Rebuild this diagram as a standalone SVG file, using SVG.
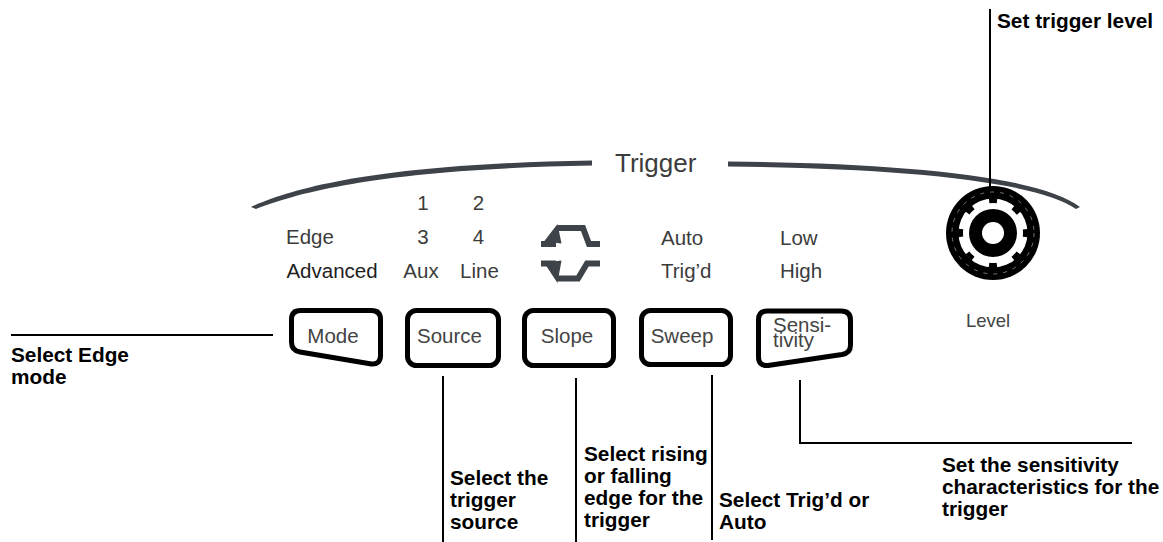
<svg xmlns="http://www.w3.org/2000/svg" width="1163" height="542" viewBox="0 0 1163 542">
<style>
.lbl{font-family:"Liberation Sans",Arial,sans-serif;font-size:20.5px;fill:#3c3c3c}
.mid{text-anchor:middle}
.call{font-family:"Liberation Sans",Arial,sans-serif;font-size:20.8px;font-weight:bold;fill:#000}
.btn{fill:#fff;stroke:#000;stroke-width:5;stroke-linejoin:round}
.ln{stroke:#000;stroke-width:2;fill:none}
.arc{fill:#3d4348}
.icon{fill:none;stroke:#3d4348;stroke-width:6}
</style>
<rect width="1163" height="542" fill="#fff"/>

<g id="trigger-header">
<path class="arc" d="M251 207 C300 185 390 164 592 160.5 L592 165.5 C392 169 304 190 256 209 Z"/>
<path class="arc" d="M728 161.5 C900 163 1040 176 1080 207 L1076 209 C1036 181 898 168 728 166.5 Z"/>
<text class="lbl" x="615" y="172" style="font-size:26px">Trigger</text>
</g>

<g id="mode-labels">
<text class="lbl mid" x="310" y="244">Edge</text>
<text class="lbl mid" x="332" y="278" style="fill:#1e1e1e">Advanced</text>
</g>
<g id="source-labels">
<text class="lbl mid" x="423" y="209.5">1</text>
<text class="lbl mid" x="478.5" y="209.5">2</text>
<text class="lbl mid" x="423" y="244">3</text>
<text class="lbl mid" x="478.5" y="244">4</text>
<text class="lbl mid" x="421" y="278">Aux</text>
<text class="lbl mid" x="479.5" y="278">Line</text>
</g>
<g id="slope-icon">
<path class="icon" d="M541 244 H556 M558 228 H583 L589 244 H600"/>
<polygon fill="#3d4348" points="544,241.5 557.5,224 561.5,243.5"/>
<path class="icon" d="M541 263.5 H556 M558 278.5 H578 L587 263.5 H600"/>
<polygon fill="#3d4348" points="544,262.5 557.5,283 561.5,260.5"/>
</g>
<g id="sweep-labels">
<text class="lbl" x="661" y="245">Auto</text>
<text class="lbl" x="661" y="278">Trig’d</text>
</g>
<g id="sensitivity-labels">
<text class="lbl" x="780" y="245">Low</text>
<text class="lbl" x="780" y="278">High</text>
</g>

<g id="btn-mode">
<path class="btn" d="M300.5 310.5 H371.5 Q380.5 310.5 380.5 319.5 V355.5 Q380.5 364.5 371.5 364 L300 352 Q291.5 350.5 291.5 342 V319.5 Q291.5 310.5 300.5 310.5 Z"/>
<text class="lbl mid" x="333" y="343" style="fill:#444">Mode</text>
</g>
<g id="btn-source">
<rect class="btn" x="407.5" y="310.5" width="91" height="55" rx="9"/>
<text class="lbl mid" x="449.5" y="343" style="fill:#444">Source</text>
</g>
<g id="btn-slope">
<rect class="btn" x="524.5" y="310.5" width="89" height="55" rx="9"/>
<text class="lbl mid" x="567" y="343" style="fill:#444">Slope</text>
</g>
<g id="btn-sweep">
<rect class="btn" x="641.5" y="310.5" width="89" height="54" rx="9"/>
<text class="lbl mid" x="682" y="343" style="fill:#444">Sweep</text>
</g>
<g id="btn-sensitivity">
<path class="btn" d="M767 311 H841 Q850.5 311 850.5 320 V345 Q850.5 353 842 354.5 L768 365.5 Q758.5 366 758.5 357 V320 Q758.5 311 767 311 Z"/>
<text class="lbl" x="773" y="332" style="fill:#444">Sensi-</text>
<text class="lbl" x="773" y="347" style="fill:#444">tivity</text>
</g>

<g id="knob-level">
<circle cx="993" cy="233" r="47" fill="#000"/>
<circle cx="993" cy="233" r="41" fill="none" stroke="#777" stroke-width="1" stroke-dasharray="4 6"/>
<circle cx="993" cy="233" r="34.5" fill="#fff"/>
<circle cx="993" cy="233" r="32.5" fill="none" stroke="#000" stroke-width="5" stroke-dasharray="8 17.5" stroke-dashoffset="4"/>
<circle cx="993" cy="233" r="24" fill="#000"/>
<circle cx="993" cy="233" r="11" fill="#fff"/>
<text class="lbl mid" x="988" y="327" style="font-size:18.5px;fill:#444">Level</text>
</g>

<g id="connectors">
<line class="ln" x1="990" y1="9" x2="990" y2="187"/>
<line class="ln" x1="11" y1="335" x2="273" y2="335"/>
<line class="ln" x1="443" y1="376" x2="443" y2="542"/>
<line class="ln" x1="576" y1="378" x2="576" y2="542"/>
<line class="ln" x1="712" y1="375" x2="712" y2="540"/>
<polyline class="ln" points="800,380 800,443 1132,443"/>
</g>

<g id="callout-level"><text class="call" x="997" y="28">Set trigger level</text></g>
<g id="callout-mode">
<text class="call" x="11" y="362">Select Edge</text>
<text class="call" x="11" y="384">mode</text>
</g>
<g id="callout-source">
<text class="call" x="450" y="485">Select the</text>
<text class="call" x="450" y="507">trigger</text>
<text class="call" x="450" y="529">source</text>
</g>
<g id="callout-slope">
<text class="call" x="584" y="461">Select rising</text>
<text class="call" x="584" y="483">or falling</text>
<text class="call" x="584" y="505">edge for the</text>
<text class="call" x="584" y="527">trigger</text>
</g>
<g id="callout-sweep">
<text class="call" x="719" y="507">Select Trig’d or</text>
<text class="call" x="719" y="529">Auto</text>
</g>
<g id="callout-sensitivity">
<text class="call" x="942" y="472">Set the sensitivity</text>
<text class="call" x="942" y="494">characteristics for the</text>
<text class="call" x="942" y="516">trigger</text>
</g>
</svg>
